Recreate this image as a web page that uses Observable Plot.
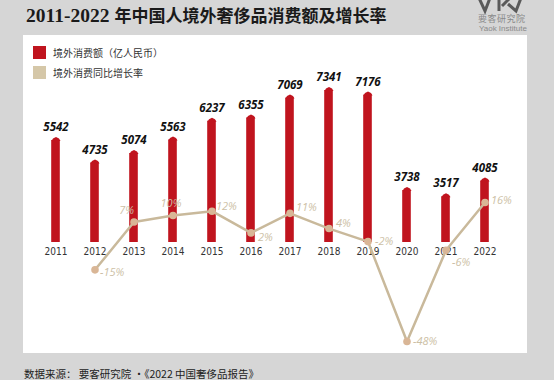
<!DOCTYPE html>
<html>
<head>
<meta charset="utf-8">
<script src="https://cdn.jsdelivr.net/npm/d3@7"></script>
<script src="https://cdn.jsdelivr.net/npm/@observablehq/plot@0.6"></script>
<style>
  html, body { margin: 0; padding: 0; }
  #root { position: relative; width: 554px; height: 380px; background: #d6d6d6; overflow: hidden; font-family: "Noto Sans CJK SC", "Noto Sans", sans-serif; }
  #panel { position: absolute; left: 23px; top: 35px; width: 504px; height: 318px; background: #fff; }
  #title { position: absolute; left: 26px; top: 3px; font-weight: 700; color: #1a1a1a; white-space: nowrap; line-height: 24px; }
  #title .num { font-family: "Liberation Serif", serif; font-size: 19.5px; }
  #title .cjk { font-family: "Noto Sans CJK SC", sans-serif; font-size: 17px; letter-spacing: 0px; margin-left: 5px; }
  .leg { position: absolute; left: 33px; font-size: 10px; color: #333; display: flex; align-items: center; white-space: nowrap; }
  .leg .sw { width: 13px; height: 13px; margin-right: 7px; }
  #footer { position: absolute; left: 24px; top: 366px; font-size: 10.5px; color: #222; white-space: nowrap; }
  #logoText { position: absolute; left: 478px; top: 12px; font-size: 9px; color: #8a8a8a; letter-spacing: 0.5px; white-space: nowrap; }
  #logoText2 { position: absolute; left: 479px; top: 24px; font-family: "Liberation Sans", sans-serif; font-size: 8px; color: #8a8a8a; white-space: nowrap; }
  .plot { position: absolute; left: 0; top: 0; }
</style>
</head>
<body>
<div id="root">
  <div id="panel"></div>
  <div id="title"><span class="num">2011-2022</span><span class="cjk">年中国人境外奢侈品消费额及增长率</span></div>
  <svg id="logo" style="position:absolute;left:474px;top:0" width="56" height="14">
    <path d="M5 -2 L11 11 L16 -2" fill="none" stroke="#5a5a5a" stroke-width="3"/>
    <path d="M25 -2 L25 11" fill="none" stroke="#5a5a5a" stroke-width="3"/>
    <path d="M28 6 L36 -2 M34 4 L42 11 L47 -2" fill="none" stroke="#5a5a5a" stroke-width="3"/>
  </svg>
  <div id="logoText">要客研究院</div>
  <div id="logoText2">Yaok Institute</div>
  <div class="leg" style="top:45px"><div class="sw" style="background:#c0141e"></div>境外消费额（亿人民币）</div>
  <div class="leg" style="top:65px"><div class="sw" style="background:#d5c7a8"></div>境外消费同比增长率</div>
  <div id="charts"></div>
  <div id="footer">数据来源： 要客研究院 ·《2022 中国奢侈品报告》</div>
</div>
<script>
// ---- data ----
const years = ["2011","2012","2013","2014","2015","2016","2017","2018","2019","2020","2021","2022"];
const spend = [5542, 4735, 5074, 5563, 6237, 6355, 7069, 7341, 7176, 3738, 3517, 4085];
const growth = [null, -15, 7, 10, 12, 2, 11, 4, -2, -48, -6, 16];

// ---- label placement (style, not data) ----
const growthLabelOffsets = {
  "2012": {dx: 5, dy: 3, anchor: "start"},
  "2013": {dx: 0, dy: -12, anchor: "end"},
  "2014": {dx: -2, dy: -12, anchor: "middle"},
  "2015": {dx: 4, dy: -5, anchor: "start"},
  "2016": {dx: 7, dy: 5, anchor: "start"},
  "2017": {dx: 6, dy: -6, anchor: "start"},
  "2018": {dx: 7, dy: -5, anchor: "start"},
  "2019": {dx: 7, dy: 0, anchor: "start"},
  "2020": {dx: 6, dy: 0, anchor: "start"},
  "2021": {dx: 6, dy: 12, anchor: "start"},
  "2022": {dx: 6, dy: -2, anchor: "start"}
};

const RED = "#c0141e";
const TAN = "#c9b99b";
const DOT = "#d9b696";
const LABEL_TAN = "#cdbfa6";
const BAR_BASE = 1870;

const barRows = years.map((y, i) => ({year: y, spend: spend[i]}));
const growthRows = years.map((y, i) => ({year: y, growth: growth[i]})).filter(d => d.growth !== null);

const W = 554, H = 380;
const ML = 33.8, MR = 47.4;

const capSymbol = {
  draw(ctx) {
    ctx.moveTo(-4.5, 0.5);
    ctx.lineTo(-3, -2);
    ctx.lineTo(0, -3.5);
    ctx.lineTo(3, -2);
    ctx.lineTo(4.5, 0.5);
    ctx.closePath();
  }
};

const bars = Plot.plot({
  width: W, height: H,
  marginLeft: ML, marginRight: MR, marginTop: 90, marginBottom: 138,
  x: {type: "band", domain: years, padding: 0, label: null},
  y: {domain: [BAR_BASE, 7341], axis: null},
  style: {background: "transparent", fontFamily: "'Liberation Sans Narrow', 'DejaVu Sans Condensed', sans-serif", fontSize: "10px", color: "#333", overflow: "visible"},
  marks: [
    Plot.axisX({tickSize: 0, tickPadding: 5, label: null}),
    Plot.barY(barRows, {x: "year", y1: BAR_BASE, y2: "spend", fill: RED, insetLeft: 15.2, insetRight: 15.2}),
    Plot.dot(barRows, {x: "year", y: "spend", symbol: capSymbol, r: 2, fill: RED}),
    Plot.text(barRows, {x: "year", y: "spend", text: d => String(d.spend), dy: -13, fill: "#111", fontSize: 11.5, fontWeight: "bold", fontStyle: "italic", fontFamily: "'Open Sans', 'DejaVu Sans', sans-serif"})
  ]
});
bars.classList.add("plot");

const line = Plot.plot({
  width: W, height: H,
  marginLeft: ML, marginRight: MR, marginTop: 202, marginBottom: 39,
  x: {type: "band", domain: years, padding: 0, axis: null},
  y: {domain: [-48, 16], axis: null},
  style: {background: "transparent", overflow: "visible"},
  marks: [
    Plot.line(growthRows, {x: "year", y: "growth", stroke: TAN, strokeWidth: 2.5}),
    Plot.dot(growthRows, {x: "year", y: "growth", r: 3.8, fill: DOT}),
    ...growthRows.map(d => {
      const o = growthLabelOffsets[d.year];
      return Plot.text([d], {x: "year", y: "growth", text: r => r.growth + "%", dx: o.dx, dy: o.dy, textAnchor: o.anchor,
        fill: LABEL_TAN, fontSize: 11, fontStyle: "italic", fontFamily: "'Open Sans', 'DejaVu Sans', sans-serif"});
    })
  ]
});
line.classList.add("plot");

const charts = document.getElementById("charts");
charts.appendChild(bars);
charts.appendChild(line);
</script>
</body>
</html>
